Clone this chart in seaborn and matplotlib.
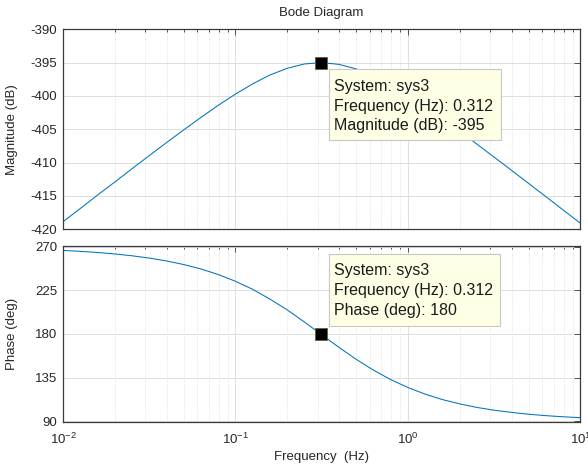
import matplotlib
matplotlib.use("Agg")
import matplotlib.pyplot as plt
import numpy as np
import pandas as pd
import seaborn as sns
from matplotlib.patches import Rectangle
from matplotlib.ticker import LogLocator, NullFormatter, FixedLocator

# ---- data ----
freq_hz = [0.01, 0.0126, 0.0158, 0.02, 0.0251, 0.0316, 0.0398, 0.0501, 0.0631, 0.0794,
           0.1, 0.126, 0.158, 0.2, 0.251, 0.312, 0.316, 0.398, 0.501, 0.631, 0.794,
           1.0, 1.26, 1.58, 2.0, 2.51, 3.16, 3.98, 5.01, 6.31, 7.94, 10.0]
magnitude_db = [-418.87, -416.88, -414.89, -412.90, -410.92, -408.95, -407.00, -405.09,
                -403.21, -401.41, -399.71, -398.18, -396.86, -395.84, -395.20, -395.00,
                -395.00, -395.26, -395.94, -397.00, -398.34, -399.90, -401.61, -403.43,
                -405.31, -407.23, -409.18, -411.15, -413.13, -415.12, -417.11, -419.10]
phase_deg = [266.33, 265.38, 264.19, 262.68, 260.80, 258.43, 255.46, 251.75, 247.14,
             241.44, 234.46, 226.06, 216.16, 204.80, 192.34, 180.00, 179.23, 166.18,
             153.82, 142.64, 132.90, 124.66, 117.84, 112.28, 107.78, 104.16, 101.28,
             99.04, 97.12, 95.66, 94.50, 93.58]

tip_freq = [0.312]
tip_mag = [-395]
tip_phase = [180]

mag_ticks = [-420, -415, -410, -405, -400, -395, -390]
phase_ticks = [90, 135, 180, 225, 270]

tip_mag_lines = ["System: sys3", "Frequency (Hz): 0.312", "Magnitude (dB): -395"]
tip_phase_lines = ["System: sys3", "Frequency (Hz): 0.312", "Phase (deg): 180"]

df = pd.DataFrame({"freq": freq_hz, "mag": magnitude_db, "phase": phase_deg})
tips = pd.DataFrame({"freq": tip_freq, "mag": tip_mag, "phase": tip_phase})

# ---- style ----
sns.set_theme(style="white")
plt.rcParams["font.family"] = ["Liberation Sans", "DejaVu Sans"]
plt.rcParams["mathtext.fontset"] = "custom"
plt.rcParams["mathtext.rm"] = "Liberation Sans"
plt.rcParams["mathtext.it"] = "Liberation Sans:italic"
plt.rcParams["axes.unicode_minus"] = False

W, H = 588, 468
fig = plt.figure(figsize=(W / 100, H / 100), dpi=100)
fig.patch.set_facecolor("white")

def fx(px):
    return px / W

def fy(py):
    return 1 - py / H

left, right = 63, 580.5
ax1 = fig.add_axes([fx(left), fy(229.3), fx(right - left), (229.3 - 29.3) / H])
ax2 = fig.add_axes([fx(left), fy(422.3), fx(right - left), (422.3 - 245.7) / H])

LINE = "#0072BD"
EDGE = "#3a3a3a"
TXT = "#262626"

sns.lineplot(data=df, x="freq", y="mag", ax=ax1, color=LINE, lw=0.75)
sns.lineplot(data=df, x="freq", y="phase", ax=ax2, color=LINE, lw=0.75)
sns.scatterplot(data=tips, x="freq", y="mag", ax=ax1, marker="s", s=80,
                color="black", edgecolor="#606040", linewidth=0.6, zorder=5)
sns.scatterplot(data=tips, x="freq", y="phase", ax=ax2, marker="s", s=80,
                color="black", edgecolor="#606040", linewidth=0.6, zorder=5)

for ax, yt in [(ax1, mag_ticks), (ax2, phase_ticks)]:
    ax.set_xscale("log")
    ax.set_xlim(0.01, 10)
    ax.yaxis.set_major_locator(FixedLocator(yt))
    ax.xaxis.set_major_locator(LogLocator(base=10, numticks=10))
    ax.xaxis.set_minor_locator(LogLocator(base=10, subs=np.arange(2, 10), numticks=20))
    ax.xaxis.set_minor_formatter(NullFormatter())
    ax.grid(True, which="major", color="#dedede", lw=0.7, ls="-")
    ax.grid(True, which="minor", axis="x", color="#dcdcdc", lw=0.6, ls=(0, (1, 1.5)))
    ax.set_axisbelow(True)
    for s in ax.spines.values():
        s.set_color(EDGE)
        s.set_linewidth(0.9)
        s.set_visible(True)
    ax.tick_params(which="both", direction="in", top=True, right=True,
                   colors=EDGE, labelcolor=TXT, labelsize=9.5, width=0.6)
    ax.tick_params(which="major", length=4, pad=4)
    ax.tick_params(which="minor", length=2.2)
    ax.set_xlabel("")
    ax.set_facecolor("white")

ax1.set_ylim(-420, -390)
ax2.set_ylim(90 - 1.2, 270 + 1.2)
ax1.tick_params(axis="x", labelbottom=False)
ax2.tick_params(axis="x", pad=7)

ax1.set_ylabel("Magnitude (dB)", fontsize=9.5, color=TXT)
ax2.set_ylabel("Phase (deg)", fontsize=9.5, color=TXT)
ax1.yaxis.set_label_coords((18 - left) / (right - left), 0.5)
ax2.yaxis.set_label_coords((18 - left) / (right - left), 0.5)

fig.text(fx(321.5), fy(13), "Bode Diagram", ha="center", va="center",
         fontsize=9.5, color=TXT)
fig.text(fx(321.5), fy(457), "Frequency  (Hz)", ha="center", va="center",
         fontsize=9.5, color=TXT)

# ---- data tips ----
def datatip(x0, y0, x1, y1, ys, lines):
    fig.patches.append(Rectangle((fx(x0), fy(y1)), fx(x1 - x0), (y1 - y0) / H,
                                 transform=fig.transFigure, facecolor="#FFFFE6",
                                 edgecolor="#c8c8c8", lw=0.8, zorder=10))
    for yy, t in zip(ys, lines):
        fig.text(fx(334), fy(yy), t, ha="left", va="center", fontsize=11.5,
                 color="#1a1a1a", zorder=11)

datatip(329, 69, 501, 140, [86, 106, 126], tip_mag_lines)
datatip(329, 254, 500, 326, [270, 290.5, 311], tip_phase_lines)

fig.savefig("out.png", dpi=100)
